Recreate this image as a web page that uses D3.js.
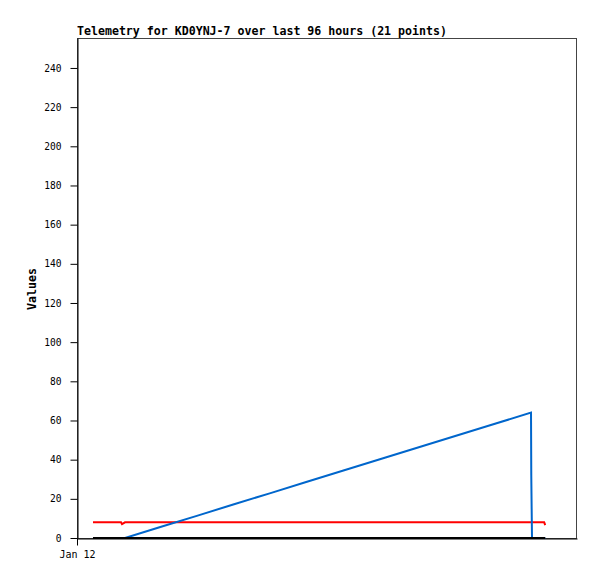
<!DOCTYPE html>
<html>
<head>
<meta charset="utf-8">
<script src="https://cdn.jsdelivr.net/npm/d3@7"></script>
<style>
  body { margin: 0; background: #fff; }
  text { font-family: "DejaVu Sans Mono", monospace; }
</style>
</head>
<body>
<div id="chart"></div>
<script>
// hours since Jan 12 00:00 for each telemetry packet
const hours = [3.07, 8.45, 8.64, 9.22, 16, 23, 30, 37, 44, 51, 58, 65, 72, 79, 87.17, 87.22, 87.36, 89.7, 89.9];
// channel values
const chBlack = [0, 0, 0, 0, 0, 0, 0, 0, 0, 0, 0, 0, 0, 0, 0, 0, 0, 0, 0];
const chRed = [8, 8, 7.1, 8, 8, 8, 8, 8, 8, 8, 8, 8, 8, 8, 8, 8, 8, 8, 6.6];
const chBlue = [0, 0, 0, 0, 5.6, 11.3, 17.1, 22.8, 28.6, 34.3, 40.1, 45.8, 51.6, 57.3, 64, 32, 0, 0, 0];
const yTicks = [0, 20, 40, 60, 80, 100, 120, 140, 160, 180, 200, 220, 240];
const xTickLabels = ["Jan 12"];
const title = "Telemetry for KD0YNJ-7 over last 96 hours (21 points)";

const width = 597, height = 579;
const margin = { top: 38, right: 20, bottom: 41, left: 77 };
const start = new Date(2024, 0, 12, 0, 0);
const times = hours.map(h => new Date(start.getTime() + h * 3600e3));

const svg = d3.select("#chart").append("svg")
  .attr("width", width).attr("height", height);

const x = d3.scaleTime()
  .domain([start, new Date(start.getTime() + 96 * 3600e3)])
  .range([margin.left, width - margin.right]);
const y = d3.scaleLinear()
  .domain([0, 255.3])
  .range([height - margin.bottom, margin.top]);

// frame
svg.append("rect")
  .attr("x", margin.left + 0.5).attr("y", margin.top + 0.5)
  .attr("width", width - margin.left - margin.right - 1)
  .attr("height", height - margin.top - margin.bottom)
  .attr("fill", "none").attr("stroke", "#444");

// y axis
const yAxis = svg.append("g")
  .attr("transform", `translate(${margin.left + 0.5},0)`)
  .call(d3.axisLeft(y).tickValues(yTicks).tickSize(7).tickSizeOuter(0).tickPadding(9));
yAxis.select(".domain").attr("stroke", "#000");
yAxis.selectAll("text").attr("font-size", 9.6).attr("fill", "#000")
  .style("font-family", "'DejaVu Sans Mono', monospace");

// x axis
const xAxis = svg.append("g")
  .attr("transform", `translate(0,${height - margin.bottom + 0.5})`)
  .call(d3.axisBottom(x).tickValues([start]).tickFormat((d, i) => xTickLabels[i])
    .tickSize(7).tickSizeOuter(0).tickPadding(5));
xAxis.select(".domain").attr("stroke", "#000");
xAxis.selectAll("text").attr("font-size", 10).attr("fill", "#000")
  .style("font-family", "'DejaVu Sans Mono', monospace");

// series
const series = [
  { values: chRed, color: "#ff0000" },
  { values: chBlue, color: "#0066cc" },
  { values: chBlack, color: "#000000" }
];
const line = d3.line()
  .x((d, i) => x(times[i]))
  .y(d => y(d));
svg.selectAll(".series").data(series).join("path")
  .attr("class", "series")
  .attr("fill", "none")
  .attr("stroke", d => d.color)
  .attr("stroke-width", 2)
  .attr("d", d => line(d.values));

// title
svg.append("text")
  .attr("x", margin.left).attr("y", 35)
  .attr("font-size", 11.6).attr("font-weight", "bold")
  .text(title);

// y label
svg.append("text")
  .attr("transform", "translate(36,289) rotate(-90)")
  .attr("text-anchor", "middle")
  .attr("font-size", 11.6).attr("font-weight", "bold")
  .text("Values");
</script>
</body>
</html>
